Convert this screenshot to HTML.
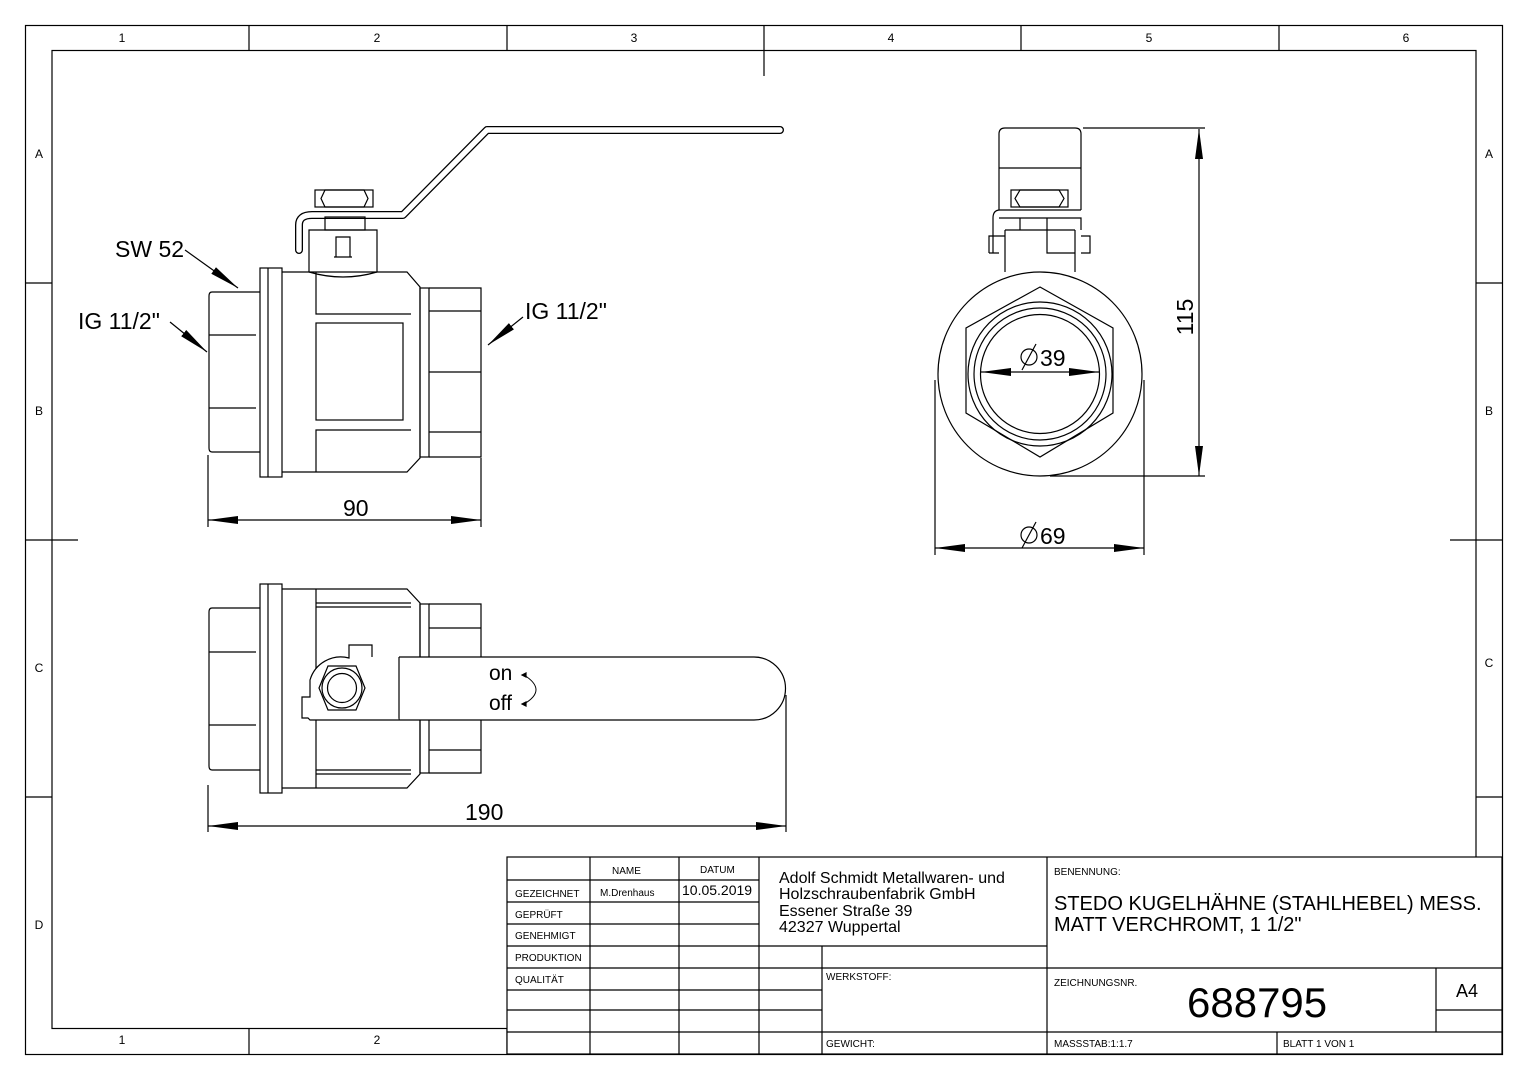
<!DOCTYPE html>
<html><head><meta charset="utf-8"><style>
html,body{margin:0;padding:0;background:#fff}
svg{display:block}
text{font-family:"Liberation Sans",sans-serif;fill:#000}
</style></head><body>
<svg width="1528" height="1080" viewBox="0 0 1528 1080" xmlns="http://www.w3.org/2000/svg">
<defs>
<marker id="ar" viewBox="0 0 30 10" refX="30" refY="5" markerWidth="30" markerHeight="10" markerUnits="userSpaceOnUse" orient="auto-start-reverse"><path d="M0,1 L30,5 L0,9 z" fill="#000"/></marker>
</defs>
<g fill="none" stroke="#000" stroke-width="1.2">
<!-- frame -->
<rect x="25.5" y="25.5" width="1477" height="1029"/>
<rect x="52" y="50.5" width="1424" height="978"/>
<path d="M249,25V50 M507,25V50 M764,25V76 M1021,25V50 M1279,25V50 M249,1028V1054 M507,1028V1054 M25,283H52 M25,540H78 M25,797H52 M1476,283H1502 M1450,540H1502 M1476,797H1502"/>
</g>
<g font-size="12" text-anchor="middle">
<text x="122" y="42">1</text><text x="377" y="42">2</text><text x="634" y="42">3</text><text x="891" y="42">4</text><text x="1149" y="42">5</text><text x="1406" y="42">6</text>
<text x="122" y="1044">1</text><text x="377" y="1044">2</text>
<text x="39" y="158">A</text><text x="39" y="415">B</text><text x="39" y="672">C</text><text x="39" y="929">D</text>
<text x="1489" y="158">A</text><text x="1489" y="415">B</text><text x="1489" y="667">C</text>
</g>

<!-- FRONT VIEW -->
<g fill="none" stroke="#000" stroke-width="1.2">
<!-- handle rod -->
<path d="M299,250 V225 Q299,215 312,215 H403 L487,130 H780" stroke-width="8" stroke-linecap="round" stroke-linejoin="round"/>
<path d="M299,250 V225 Q299,215 312,215 H403 L487,130 H780" stroke="#fff" stroke-width="5.4" stroke-linecap="round" stroke-linejoin="round"/>
<rect x="315" y="190" width="58" height="17"/>
<path d="M325,190 L321,198.5 L325,207 H364 L368,198.5 L364,190 Z"/>
<rect x="325" y="217" width="40" height="13"/>
<path d="M309,272 V230 H377 V272"/>
<path d="M309,272 Q343,282 377,272"/>
<path d="M336,257 V237 H350 V257 M334,257 H352"/>
<!-- left end -->
<path d="M260,292 H212 Q209,292 209,296 V448 Q209,452 212,452 H260"/>
<path d="M209,335 H256 M209,408 H256"/>
<rect x="260" y="268" width="22" height="209"/>
<path d="M268,268 V477"/>
<!-- body -->
<path d="M282,272 H407 L420,287 V458 L407,472 H282"/>
<path d="M316,272 V314 H411 M316,472 V430 H411"/>
<rect x="316" y="323" width="87" height="97"/>
<!-- right end -->
<rect x="420" y="288" width="9" height="169"/>
<path d="M429,288 H481 V457 H429 M429,311 H481 M429,372 H481 M429,432 H481"/>
<!-- dims -->
<path d="M208,455 V527 M481,458 V527"/>
<path d="M208,520 H481" marker-start="url(#ar)" marker-end="url(#ar)"/>
<path d="M185,250 L238,288" marker-end="url(#ar)"/>
<path d="M170,322 L207,352" marker-end="url(#ar)"/>
<path d="M523,317 L488,345" marker-end="url(#ar)"/>
</g>
<g font-size="23">
<text x="115" y="257">SW 52</text>
<text x="78" y="329">IG 11/2"</text>
<text x="525" y="319">IG 11/2"</text>
<text x="343" y="516">90</text>
</g>

<!-- SIDE VIEW -->
<g fill="none" stroke="#000" stroke-width="1.2">
<path d="M999,210 V134 Q999,128 1005,128 H1075 Q1081,128 1081,134 V210"/>
<path d="M999,168 H1081"/>
<rect x="1011" y="190" width="57" height="17"/>
<path d="M1020,190 L1015,198.5 L1020,207 H1059 L1064,198.5 L1059,190 Z"/>
<path d="M993,253 V218 Q993,210 1000,210 H1081 M999,218 H1081 V230"/>
<path d="M989,253 H999 M989,253 V236 H1005 M1081,236 H1090 V253 H1081"/>
<path d="M1005,230 V272 M1075,230 V272 M1005,230 H1075 M1020,218 V230 M1047,218 V253 H1075"/>
<circle cx="1040" cy="374" r="102"/>
<path d="M1040,287 L1113,328 V413 L1040,457 L966,413 V328 Z"/>
<circle cx="1040" cy="374" r="72"/>
<circle cx="1040" cy="374" r="66"/>
<circle cx="1040" cy="374" r="59.5"/>
<path d="M981,372 H1099" marker-start="url(#ar)" marker-end="url(#ar)"/>
<path d="M935,380 V555 M1144,380 V555"/>
<path d="M935,548 H1144" marker-start="url(#ar)" marker-end="url(#ar)"/>
<path d="M1083,128 H1205 M1050,476 H1205"/>
<path d="M1199,129 V476" marker-start="url(#ar)" marker-end="url(#ar)"/>
<circle cx="1029" cy="357" r="8"/><path d="M1022,370 L1036,344"/>
<circle cx="1029" cy="535" r="8"/><path d="M1022,548 L1036,522"/>
</g>
<g font-size="23">
<text x="1040" y="366">39</text>
<text x="1040" y="544">69</text>
<text transform="translate(1193,317) rotate(-90)" text-anchor="middle">115</text>
</g>

<!-- TOP VIEW -->
<g fill="none" stroke="#000" stroke-width="1.2">
<path d="M260,608 H212 Q209,608 209,612 V766 Q209,770 212,770 H260"/>
<path d="M209,652 H256 M209,725 H256"/>
<rect x="260" y="584" width="22" height="209"/>
<path d="M268,584 V793"/>
<path d="M282,589 H407 L420,603 V774 L407,788 H282"/>
<path d="M316,589 V788 M316,603 H411 M316,607 H411 M316,770 H411 M316,774 H411"/>
<rect x="420" y="604" width="9" height="169"/>
<path d="M429,604 H481 V773 H429 M429,628 H481 M429,750 H481"/>
<!-- lever -->
<path d="M399,657 H754 A31.5,31.5 0 0 1 754,720 H399" fill="#fff"/>
<path d="M399,657 V720"/>
<path d="M372,657 V645 H349 V658 A32,32 0 0 0 310,680 V697 H302 V718 H308 L310,720 H399" fill="#fff"/>
<path d="M328,666 L356,666 L365,688 L356,710 L328,710 L319,688 Z"/>
<circle cx="342" cy="688" r="20"/>
<circle cx="342" cy="688" r="14.5"/>
<path d="M524,675 Q548,690 524,704" stroke-width="1"/>
<path d="M522,675 l4,-2 v4 z M522,704 l4,-2 v4 z" fill="#000"/>
<path d="M786,695 V832"/>
<path d="M208,785 V832"/>
<path d="M208,826 H786" marker-start="url(#ar)" marker-end="url(#ar)"/>
</g>
<g font-size="21">
<text x="489" y="680">on</text>
<text x="489" y="710">off</text>
</g>
<text x="465" y="820" font-size="23">190</text>

<!-- TITLE BLOCK -->
<g fill="none" stroke="#000" stroke-width="1.2">
<rect x="507" y="857" width="995" height="197" fill="#fff"/>
<path d="M507,880 H759 M507,902 H759 M507,924 H759 M507,946 H1047 M507,968 H1502 M507,990 H822 M507,1010 H822 M507,1032 H1502 M1436,1010 H1502"/>
<path d="M590,857 V1054 M679,857 V1054 M759,857 V1054 M822,946 V1054 M1047,857 V1054 M1436,968 V1032 M1277,1032 V1054"/>
</g>
<g font-size="10">
<text x="612" y="874">NAME</text><text x="700" y="873">DATUM</text>
<text x="515" y="897">GEZEICHNET</text><text x="600" y="896">M.Drenhaus</text>
<text x="515" y="918">GEPRÜFT</text><text x="515" y="939">GENEHMIGT</text>
<text x="515" y="961">PRODUKTION</text><text x="515" y="983">QUALITÄT</text>
<text x="826" y="980">WERKSTOFF:</text><text x="826" y="1047">GEWICHT:</text>
<text x="1054" y="875">BENENNUNG:</text><text x="1054" y="986">ZEICHNUNGSNR.</text>
<text x="1054" y="1047">MASSSTAB:1:1.7</text><text x="1283" y="1047">BLATT 1 VON 1</text>
</g>
<text x="682" y="895" font-size="14">10.05.2019</text>
<g font-size="16">
<text x="779" y="883">Adolf Schmidt Metallwaren- und</text>
<text x="779" y="899">Holzschraubenfabrik GmbH</text>
<text x="779" y="916">Essener Straße 39</text>
<text x="779" y="932">42327 Wuppertal</text>
</g>
<g font-size="20">
<text x="1054" y="910">STEDO KUGELHÄHNE (STAHLHEBEL) MESS.</text>
<text x="1054" y="931">MATT VERCHROMT, 1 1/2"</text>
</g>
<text x="1187" y="1017" font-size="42">688795</text>
<text x="1456" y="997" font-size="18">A4</text>
</svg>
</body></html>
